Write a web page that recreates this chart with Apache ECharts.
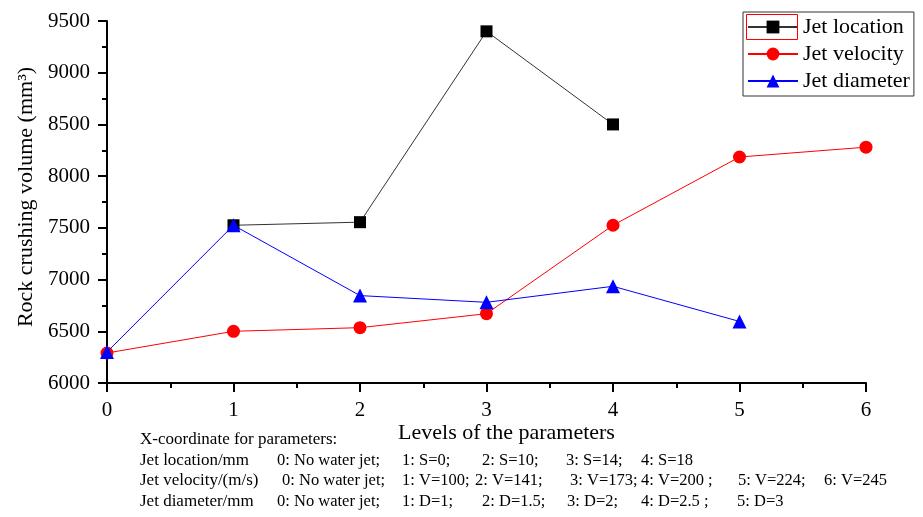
<!DOCTYPE html>
<html>
<head>
<meta charset="utf-8">
<script src="https://cdn.jsdelivr.net/npm/echarts@6/dist/echarts.min.js"></script>
<style>
html,body{margin:0;padding:0;background:#fff;}
#chart{width:923px;height:517px;}
</style>
</head>
<body>
<div id="chart"></div>
<script>
// ---- data ----
const seriesNames = ['Jet location', 'Jet velocity', 'Jet diameter'];
const locationLevels = [1, 2, 3, 4];
const locationValues = [7525, 7555, 9400, 8500];
const velocityLevels = [0, 1, 2, 3, 4, 5, 6];
const velocityValues = [6290, 6500, 6535, 6670, 7525, 8185, 8280];
const diameterLevels = [0, 1, 2, 3, 4, 5];
const diameterValues = [6300, 7525, 6845, 6780, 6935, 6595];
const xTickLabels = ['0', '1', '2', '3', '4', '5', '6'];
const yTickLabels = ['6000', '6500', '7000', '7500', '8000', '8500', '9000', '9500'];
const xAxisTitle = 'Levels of the parameters';
const yAxisTitle = 'Rock crushing volume (mm\u00B3)';
const noteHeader = 'X-coordinate for parameters:';
const noteRows = [
  ['Jet location/mm', '0: No water jet;', '1: S=0;', '2: S=10;', '3: S=14;', '4: S=18'],
  ['Jet velocity/(m/s)', '0: No water jet;', '1: V=100;', '2: V=141;', '3: V=173;', '4: V=200 ;', '5: V=224;', '6: V=245'],
  ['Jet diameter/mm', '0: No water jet;', '1: D=1;', '2: D=1.5;', '3: D=2;', '4: D=2.5 ;', '5: D=3']
];

// ---- layout (not data) ----
const noteColX = [
  [140, 277, 402, 482, 566, 641],
  [140, 282, 402, 475, 570, 641, 738, 824],
  [140, 277, 402, 482, 567, 641, 737]
];
const noteRowY = [462, 482, 503];
const FONT = '"Liberation Serif", "Times New Roman", serif';
const NOTE_FONT = '17px ' + FONT;
const NOTE_VAL_FONT = '16.5px ' + FONT;

const pair = (xs, ys) => xs.map((x, i) => [x, ys[i]]);

const graphics = [
  { type: 'text', left: 140, top: 441 - 10, style: { text: noteHeader, font: NOTE_FONT, fill: '#000' } },
  { type: 'rect', shape: { x: 746.5, y: 14.5, width: 51, height: 25 }, style: { fill: 'none', stroke: '#ff0000', lineWidth: 1 }, z: 100 }
];
noteRows.forEach((row, r) => {
  row.forEach((t, c) => {
    graphics.push({ type: 'text', left: noteColX[r][c], top: noteRowY[r] - 10, style: { text: t, font: c === 0 ? NOTE_FONT : NOTE_VAL_FONT, fill: '#000' } });
  });
});

const chart = echarts.init(document.getElementById('chart'), null, { renderer: 'canvas' });
const axisCommon = {
  axisLine: { show: true, onZero: false, lineStyle: { color: '#000', width: 2 } },
  axisTick: { show: true, inside: false, length: 9, lineStyle: { color: '#000', width: 2 } },
  minorTick: { show: true, splitNumber: 2, length: 5, lineStyle: { color: '#000', width: 2 } },
  splitLine: { show: false },
  minorSplitLine: { show: false }
};
chart.setOption({
  backgroundColor: '#fff',
  animation: false,
  textStyle: { fontFamily: FONT },
  grid: { left: 107, right: 57, top: 21, bottom: 134, containLabel: false },
  legend: {
    orient: 'vertical',
    left: 743, top: 12,
    data: seriesNames,
    borderColor: '#333', borderWidth: 1,
    padding: [3, 4, 3, 4],
    itemWidth: 50, itemHeight: 16, itemGap: 3,
    textStyle: { fontSize: 22, fontFamily: FONT, color: '#000', lineHeight: 24 }
  },
  xAxis: Object.assign({
    type: 'value', min: 0, max: 6, interval: 1,
    name: xAxisTitle, nameLocation: 'middle', nameGap: 39, nameMoveOverlap: false,
    nameTextStyle: { fontSize: 22, fontFamily: FONT, color: '#000', padding: [0, 0, 0, 40] },
    axisLabel: { fontSize: 21, fontFamily: FONT, color: '#000', margin: 17, formatter: v => xTickLabels[Math.round(v)] }
  }, axisCommon),
  yAxis: Object.assign({
    type: 'value', min: 6000, max: 9500, interval: 500,
    name: yAxisTitle, nameLocation: 'middle', nameGap: 68, nameRotate: 90,
    nameTextStyle: { fontSize: 22, fontFamily: FONT, color: '#000', padding: [0, 0, 0, 10] },
    axisLabel: { fontSize: 21, fontFamily: FONT, color: '#000', margin: 17, formatter: v => yTickLabels[Math.round((v - 6000) / 500)] }
  }, axisCommon),
  series: [
    {
      name: seriesNames[0], type: 'line', data: pair(locationLevels, locationValues),
      symbol: 'rect', symbolSize: 12,
      lineStyle: { color: '#333', width: 1 }, itemStyle: { color: '#000' }, z: 2
    },
    {
      name: seriesNames[1], type: 'line', data: pair(velocityLevels, velocityValues),
      symbol: 'circle', symbolSize: 13,
      lineStyle: { color: '#ff0000', width: 1 }, itemStyle: { color: '#ff0000' }, z: 3
    },
    {
      name: seriesNames[2], type: 'line', data: pair(diameterLevels, diameterValues),
      symbol: 'triangle', symbolSize: 14,
      lineStyle: { color: '#0000ff', width: 1 }, itemStyle: { color: '#0000ff' }, z: 4
    }
  ],
  graphic: graphics
});
</script>
</body>
</html>
